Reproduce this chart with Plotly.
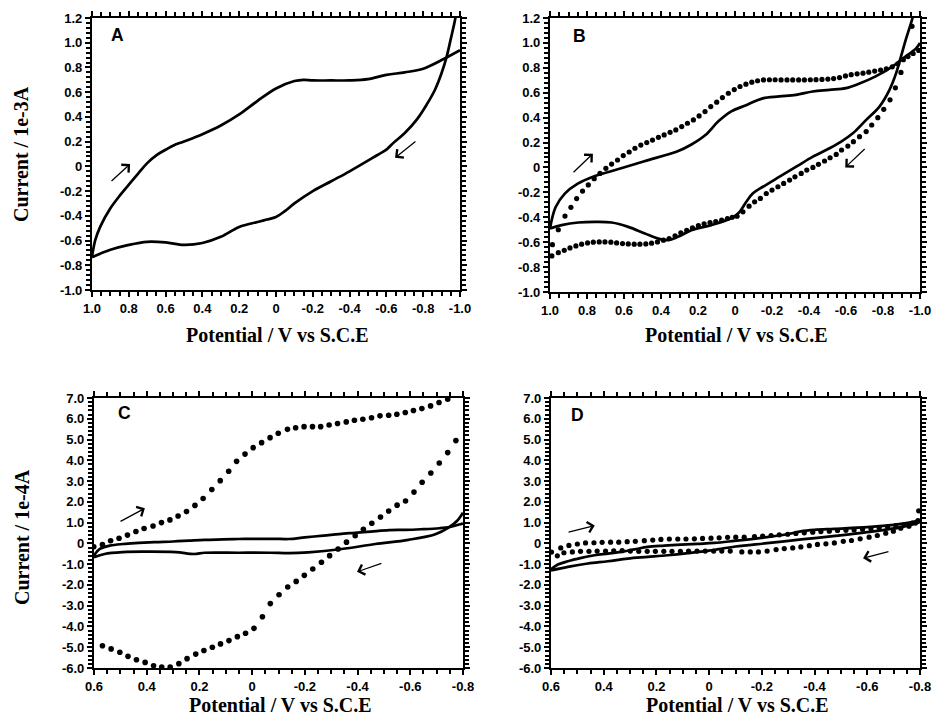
import plotly.graph_objects as go

# ---------------- data (potential V vs S.C.E, current) ----------------
# Panel A (current / 1e-3 A), solid CV
A_fwd_v = [1.0, 0.982, 0.955, 0.9, 0.846, 0.801, 0.747, 0.70, 0.647, 0.6, 0.557, 0.5, 0.4, 0.3, 0.2, 0.1, 0.0, -0.1, -0.15, -0.2, -0.3, -0.4, -0.5, -0.6, -0.7, -0.8, -0.9, -1.0]
A_fwd_i = [-0.73, -0.595, -0.487, -0.339, -0.231, -0.15, -0.055, 0.026, 0.093, 0.134, 0.169, 0.201, 0.26, 0.33, 0.42, 0.53, 0.63, 0.69, 0.70, 0.695, 0.695, 0.695, 0.705, 0.74, 0.76, 0.79, 0.86, 0.94]
A_rev_v = [-0.99, -0.975, -0.949, -0.928, -0.9, -0.864, -0.819, -0.765, -0.7, -0.638, -0.6, -0.549, -0.4, -0.3, -0.2, -0.1, -0.05, 0.0, 0.05, 0.1, 0.2, 0.3, 0.4, 0.5, 0.6, 0.7, 0.8, 0.9, 1.0]
A_rev_i = [1.35, 1.2, 1.025, 0.89, 0.755, 0.62, 0.50, 0.378, 0.27, 0.19, 0.135, 0.09, -0.04, -0.12, -0.20, -0.30, -0.36, -0.41, -0.43, -0.45, -0.49, -0.57, -0.62, -0.635, -0.615, -0.61, -0.635, -0.675, -0.735]

# Panel B (current / 1e-3 A), solid CV
B_fwd_v = [1.0, 0.97, 0.92, 0.85, 0.76, 0.67, 0.49, 0.31, 0.24, 0.16, 0.09, 0.02, -0.06, -0.15, -0.24, -0.33, -0.42, -0.51, -0.60, -0.67, -0.76, -0.85, -0.91, -0.98, -1.0]
B_fwd_i = [-0.49, -0.32, -0.21, -0.13, -0.07, -0.03, 0.05, 0.13, 0.18, 0.26, 0.37, 0.45, 0.50, 0.555, 0.57, 0.583, 0.61, 0.623, 0.637, 0.672, 0.731, 0.81, 0.878, 0.958, 1.0]
B_rev_v = [-0.975, -0.957, -0.924, -0.897, -0.871, -0.835, -0.781, -0.709, -0.637, -0.574, -0.511, -0.421, -0.331, -0.241, -0.151, -0.097, -0.061, -0.025, 0.011, 0.128, 0.236, 0.308, 0.362, 0.415, 0.487, 0.577, 0.667, 0.757, 0.847, 0.937, 1.0]
B_rev_i = [1.30, 1.187, 1.03, 0.89, 0.757, 0.623, 0.489, 0.382, 0.274, 0.207, 0.154, 0.087, 0.006, -0.074, -0.155, -0.208, -0.276, -0.356, -0.40, -0.463, -0.504, -0.557, -0.584, -0.571, -0.531, -0.477, -0.442, -0.437, -0.442, -0.463, -0.49]
# Panel B, dotted CV
B_dot_fwd_v = [0.987, 0.955, 0.919, 0.887, 0.856, 0.824, 0.793, 0.761, 0.730, 0.698, 0.667, 0.635, 0.604, 0.572, 0.541, 0.509, 0.477, 0.446, 0.414, 0.383, 0.351, 0.320, 0.288, 0.257, 0.225, 0.194, 0.162, 0.131, 0.099, 0.068, 0.036, 0.004, -0.027, -0.059, -0.091, -0.122, -0.154, -0.186, -0.217, -0.249, -0.281, -0.312, -0.344, -0.375, -0.407, -0.438, -0.470, -0.502, -0.533, -0.565, -0.597, -0.628, -0.660, -0.692, -0.723, -0.755, -0.787, -0.818, -0.850, -0.880, -0.910, -0.935, -0.963, -0.993]
B_dot_fwd_i = [-0.62, -0.50, -0.39, -0.32, -0.25, -0.19, -0.14, -0.09, -0.048, -0.007, 0.027, 0.06, 0.095, 0.124, 0.154, 0.18, 0.20, 0.22, 0.242, 0.261, 0.282, 0.301, 0.328, 0.355, 0.382, 0.414, 0.449, 0.489, 0.524, 0.561, 0.596, 0.625, 0.65, 0.669, 0.685, 0.696, 0.703, 0.704, 0.704, 0.703, 0.703, 0.703, 0.703, 0.703, 0.704, 0.705, 0.707, 0.71, 0.714, 0.722, 0.735, 0.745, 0.752, 0.757, 0.765, 0.774, 0.782, 0.792, 0.808, 0.832, 0.865, 0.89, 0.915, 0.94]
B_dot_rev_v = [-0.957, -0.897, -0.867, -0.838, -0.804, -0.772, -0.739, -0.709, -0.673, -0.640, -0.610, -0.576, -0.547, -0.514, -0.484, -0.451, -0.421, -0.388, -0.358, -0.324, -0.295, -0.263, -0.232, -0.200, -0.169, -0.137, -0.106, -0.076, -0.043, -0.011, 0.015, 0.041, 0.072, 0.104, 0.135, 0.167, 0.198, 0.230, 0.261, 0.293, 0.324, 0.356, 0.387, 0.419, 0.451, 0.482, 0.514, 0.545, 0.577, 0.608, 0.640, 0.671, 0.703, 0.734, 0.766, 0.797, 0.829, 0.860, 0.892, 0.923, 0.955, 0.990]
B_dot_rev_i = [1.133, 0.763, 0.639, 0.543, 0.467, 0.40, 0.341, 0.288, 0.247, 0.207, 0.172, 0.14, 0.105, 0.078, 0.052, 0.025, 0.0, -0.021, -0.048, -0.075, -0.101, -0.128, -0.155, -0.182, -0.209, -0.249, -0.276, -0.311, -0.356, -0.391, -0.40, -0.41, -0.423, -0.434, -0.442, -0.453, -0.466, -0.485, -0.504, -0.525, -0.549, -0.571, -0.584, -0.598, -0.608, -0.614, -0.616, -0.616, -0.614, -0.611, -0.606, -0.60, -0.598, -0.598, -0.60, -0.606, -0.616, -0.63, -0.646, -0.665, -0.684, -0.71]

# Panel C (current / 1e-4 A)
C_fwd_v = [0.6, 0.578, 0.54, 0.49, 0.43, 0.37, 0.30, 0.24, 0.18, 0.11, 0.05, -0.01, -0.08, -0.14, -0.20, -0.27, -0.33, -0.39, -0.45, -0.52, -0.58, -0.64, -0.71, -0.75, -0.79, -0.8]
C_fwd_i = [-0.59, -0.27, -0.11, -0.03, 0.02, 0.06, 0.09, 0.13, 0.17, 0.19, 0.21, 0.22, 0.22, 0.21, 0.29, 0.37, 0.45, 0.51, 0.57, 0.64, 0.65, 0.68, 0.73, 0.79, 0.92, 0.95]
C_rev_v = [-0.8, -0.777, -0.745, -0.695, -0.593, -0.467, -0.34, -0.213, -0.14, -0.07, 0.05, 0.18, 0.22, 0.29, 0.41, 0.49, 0.56, 0.6]
C_rev_i = [1.48, 1.08, 0.76, 0.44, 0.17, -0.03, -0.27, -0.43, -0.47, -0.45, -0.45, -0.45, -0.51, -0.42, -0.40, -0.42, -0.51, -0.67]
C_dot_fwd_v = [0.601, 0.568, 0.537, 0.505, 0.473, 0.441, 0.410, 0.376, 0.344, 0.312, 0.281, 0.249, 0.217, 0.186, 0.153, 0.121, 0.089, 0.059, 0.027, -0.004, -0.036, -0.068, -0.099, -0.134, -0.165, -0.197, -0.229, -0.260, -0.292, -0.324, -0.357, -0.388, -0.420, -0.453, -0.485, -0.518, -0.549, -0.581, -0.612, -0.644, -0.677, -0.709, -0.742]
C_dot_fwd_i = [-0.16, -0.06, 0.13, 0.25, 0.40, 0.57, 0.72, 0.84, 1.00, 1.13, 1.32, 1.53, 1.83, 2.16, 2.59, 3.02, 3.47, 3.95, 4.30, 4.61, 4.85, 5.09, 5.30, 5.49, 5.57, 5.62, 5.62, 5.62, 5.70, 5.77, 5.85, 5.93, 5.98, 6.05, 6.14, 6.17, 6.22, 6.30, 6.40, 6.49, 6.62, 6.78, 6.94]
C_dot_rev_v = [-0.773, -0.742, -0.710, -0.678, -0.645, -0.614, -0.582, -0.550, -0.518, -0.487, -0.454, -0.422, -0.391, -0.358, -0.326, -0.294, -0.263, -0.230, -0.198, -0.167, -0.135, -0.102, -0.069, -0.039, -0.007, 0.025, 0.056, 0.088, 0.120, 0.151, 0.183, 0.214, 0.247, 0.278, 0.311, 0.343, 0.374, 0.406, 0.439, 0.471, 0.502, 0.535, 0.568]
C_dot_rev_i = [4.95, 4.37, 3.87, 3.39, 2.94, 2.47, 2.04, 1.84, 1.56, 1.27, 0.97, 0.68, 0.37, 0.06, -0.27, -0.59, -0.91, -1.23, -1.54, -1.83, -2.10, -2.47, -2.90, -3.53, -4.09, -4.33, -4.49, -4.68, -4.84, -5.00, -5.16, -5.33, -5.55, -5.79, -5.95, -5.95, -5.89, -5.73, -5.60, -5.44, -5.24, -5.08, -4.93]

# Panel D (current / 1e-4 A)
D_fwd_v = [0.6, 0.574, 0.536, 0.485, 0.435, 0.384, 0.334, 0.283, 0.233, 0.170, 0.107, 0.044, -0.019, -0.095, -0.22, -0.30, -0.348, -0.40, -0.474, -0.60, -0.727, -0.8]
D_fwd_i = [-1.25, -1.02, -0.86, -0.70, -0.57, -0.49, -0.41, -0.29, -0.17, -0.11, -0.06, -0.02, 0.02, 0.12, 0.30, 0.45, 0.58, 0.65, 0.70, 0.78, 0.94, 1.10]
D_rev_v = [-0.8, -0.73, -0.6, -0.47, -0.35, -0.22, -0.1, 0.0, 0.08, 0.157, 0.233, 0.309, 0.384, 0.46, 0.536, 0.6]
D_rev_i = [1.02, 0.78, 0.54, 0.35, 0.19, 0.01, -0.15, -0.35, -0.47, -0.57, -0.65, -0.73, -0.86, -0.97, -1.13, -1.30]
D_dot_fwd_v = [0.598, 0.563, 0.532, 0.500, 0.469, 0.437, 0.406, 0.374, 0.343, 0.311, 0.280, 0.246, 0.214, 0.183, 0.151, 0.119, 0.088, 0.056, 0.025, -0.007, -0.038, -0.070, -0.101, -0.133, -0.172, -0.203, -0.235, -0.266, -0.298, -0.329, -0.361, -0.393, -0.424, -0.456, -0.487, -0.519, -0.550, -0.582, -0.614, -0.645, -0.677, -0.708, -0.740, -0.771, -0.792]
D_dot_fwd_i = [-0.42, -0.22, -0.10, -0.03, 0.02, 0.03, 0.05, 0.06, 0.06, 0.08, 0.10, 0.13, 0.16, 0.19, 0.21, 0.21, 0.21, 0.22, 0.24, 0.25, 0.27, 0.29, 0.30, 0.30, 0.33, 0.35, 0.38, 0.41, 0.44, 0.48, 0.51, 0.54, 0.57, 0.59, 0.62, 0.63, 0.65, 0.68, 0.71, 0.75, 0.79, 0.86, 0.90, 0.98, 1.10]
D_dot_rev_v = [-0.795, -0.783, -0.758, -0.727, -0.699, -0.670, -0.638, -0.607, -0.573, -0.540, -0.509, -0.475, -0.443, -0.411, -0.380, -0.348, -0.317, -0.285, -0.254, -0.220, -0.187, -0.156, -0.124, -0.080, -0.048, -0.017, 0.015, 0.046, 0.078, 0.109, 0.141, 0.172, 0.204, 0.235, 0.267, 0.299, 0.330, 0.362, 0.393, 0.425, 0.456, 0.488, 0.519, 0.551, 0.576]
D_dot_rev_i = [1.57, 0.98, 0.83, 0.73, 0.59, 0.49, 0.38, 0.30, 0.22, 0.14, 0.10, 0.02, -0.02, -0.05, -0.11, -0.17, -0.22, -0.25, -0.30, -0.37, -0.41, -0.41, -0.41, -0.37, -0.37, -0.37, -0.37, -0.37, -0.37, -0.38, -0.38, -0.38, -0.38, -0.38, -0.38, -0.37, -0.35, -0.36, -0.37, -0.37, -0.38, -0.38, -0.41, -0.45, -0.60]

# ticks
top_x_vals = [1.0, 0.8, 0.6, 0.4, 0.2, 0.0, -0.2, -0.4, -0.6, -0.8, -1.0]
top_x_text = ["1.0", "0.8", "0.6", "0.4", "0.2", "0", "-0.2", "-0.4", "-0.6", "-0.8", "-1.0"]
top_y_vals = [1.2, 1.0, 0.8, 0.6, 0.4, 0.2, 0.0, -0.2, -0.4, -0.6, -0.8, -1.0]
top_y_text = ["1.2", "1.0", "0.8", "0.6", "0.4", "0.2", "0", "-0.2", "-0.4", "-0.6", "-0.8", "-1.0"]
bot_x_vals = [0.6, 0.4, 0.2, 0.0, -0.2, -0.4, -0.6, -0.8]
bot_x_text = ["0.6", "0.4", "0.2", "0", "-0.2", "-0.4", "-0.6", "-0.8"]
bot_y_vals = [7, 6, 5, 4, 3, 2, 1, 0, -1, -2, -3, -4, -5, -6]
bot_y_text = ["7.0", "6.0", "5.0", "4.0", "3.0", "2.0", "1.0", "0", "-1.0", "-2.0", "-3.0", "-4.0", "-5.0", "-6.0"]

panel_labels = ["A", "B", "C", "D"]
y_title_top = "Current / 1e-3A"
y_title_bot = "Current / 1e-4A"
x_title = "Potential / V vs S.C.E"

# ---------------- figure ----------------
# page body keeps the browser's default 8 px margin; figure is sized to fill the 942x725 window exactly
OFF = 8
W, H = 926, 709
fig = go.Figure()

def fx(px):
    return (px - OFF) / W

def fy(py):
    return 1 - (py - OFF) / H

def solid(v, i, xa, ya):
    fig.add_trace(go.Scatter(x=v, y=i, mode="lines", xaxis=xa, yaxis=ya,
                             line=dict(color="black", width=2.7, shape="spline", smoothing=1.0),
                             showlegend=False, hoverinfo="skip"))

def dots(v, i, xa, ya, size=5.2):
    fig.add_trace(go.Scatter(x=v, y=i, mode="markers", xaxis=xa, yaxis=ya,
                             marker=dict(color="black", size=size, line=dict(width=0)),
                             showlegend=False, hoverinfo="skip"))

solid(A_fwd_v, A_fwd_i, "x", "y")
solid(A_rev_v, A_rev_i, "x", "y")
solid(B_fwd_v, B_fwd_i, "x2", "y2")
solid(B_rev_v, B_rev_i, "x2", "y2")
dots(B_dot_fwd_v, B_dot_fwd_i, "x2", "y2")
dots(B_dot_rev_v, B_dot_rev_i, "x2", "y2")
solid(C_fwd_v, C_fwd_i, "x3", "y3")
solid(C_rev_v, C_rev_i, "x3", "y3")
dots(C_dot_fwd_v, C_dot_fwd_i, "x3", "y3", 5.6)
dots(C_dot_rev_v, C_dot_rev_i, "x3", "y3", 5.6)
solid(D_fwd_v, D_fwd_i, "x4", "y4")
solid(D_rev_v, D_rev_i, "x4", "y4")
dots(D_dot_fwd_v, D_dot_fwd_i, "x4", "y4")
dots(D_dot_rev_v, D_dot_rev_i, "x4", "y4")

tickfont = dict(family="Liberation Sans, Arial, sans-serif", size=13, color="black", weight="bold")

def xaxis(left, right, rng, vals, text):
    return dict(domain=[fx(left), fx(right)], range=rng, tickmode="array", tickvals=vals, ticktext=text,
                showline=True, linecolor="black", linewidth=2.2, mirror="allticks",
                ticks="outside", ticklen=5, tickwidth=2, tickcolor="black",
                minor=dict(tickmode="linear", tick0=0, dtick=0.05, ticks="outside", ticklen=4,
                           tickwidth=1.6, tickcolor="black", showgrid=False),
                showgrid=False, zeroline=False, tickfont=tickfont, fixedrange=True, automargin=False)

def yaxis(top, bottom, rng, vals, text, mdt):
    return dict(domain=[fy(bottom), fy(top)], range=rng, tickmode="array", tickvals=vals, ticktext=text,
                showline=True, linecolor="black", linewidth=2.2, mirror="allticks",
                ticks="outside", ticklen=5, tickwidth=2, tickcolor="black",
                minor=dict(tickmode="linear", tick0=0, dtick=mdt, ticks="outside", ticklen=4,
                           tickwidth=1.6, tickcolor="black", showgrid=False),
                showgrid=False, zeroline=False, tickfont=tickfont, fixedrange=True, automargin=False)

fig.update_layout(
    width=W, height=H, margin=dict(l=0, r=0, t=0, b=0, pad=0),
    paper_bgcolor="white", plot_bgcolor="white",
    xaxis=xaxis(92, 460, [1.0, -1.0], top_x_vals, top_x_text),
    yaxis=yaxis(18, 290, [-1.0, 1.2], top_y_vals, top_y_text, 0.04),
    xaxis2=xaxis(550, 920, [1.0, -1.0], top_x_vals, top_x_text),
    yaxis2=yaxis(18, 292, [-1.0, 1.2], top_y_vals, top_y_text, 0.04),
    xaxis3=xaxis(94, 463, [0.6, -0.8], bot_x_vals, bot_x_text),
    yaxis3=yaxis(398, 668, [-6.0, 7.0], bot_y_vals, bot_y_text, 0.2),
    xaxis4=xaxis(551, 920, [0.6, -0.8], bot_x_vals, bot_x_text),
    yaxis4=yaxis(398, 668, [-6.0, 7.0], bot_y_vals, bot_y_text, 0.2),
)
fig.update_layout(xaxis2_anchor="y2", yaxis2_anchor="x2", xaxis3_anchor="y3", yaxis3_anchor="x3",
                  xaxis4_anchor="y4", yaxis4_anchor="x4", xaxis_anchor="y", yaxis_anchor="x")

title_font = dict(family="Liberation Serif, Times New Roman, serif", size=20, color="black", weight="bold")
label_font = dict(family="Liberation Sans, Arial, sans-serif", size=17.5, color="black", weight="bold")

ann = []
# panel letters
for lab, xd, yd, (xr, yr) in zip(panel_labels, [0.07, 0.081, 0.084, 0.073], [0.9375, 0.934, 0.945, 0.938],
                                 [("x", "y"), ("x2", "y2"), ("x3", "y3"), ("x4", "y4")]):
    ann.append(dict(text=lab, xref=xr + " domain", yref=yr + " domain", x=xd, y=yd,
                    showarrow=False, font=label_font, xanchor="center", yanchor="middle"))
# axis titles
for cx in (277, 736):
    ann.append(dict(text=x_title, xref="paper", yref="paper", x=fx(cx), y=fy(335),
                    showarrow=False, font=title_font, xanchor="center", yanchor="middle"))
for cx in (280, 737):
    ann.append(dict(text=x_title, xref="paper", yref="paper", x=fx(cx), y=0,
                    showarrow=False, font=title_font, xanchor="center", yanchor="bottom", borderpad=0))
ann.append(dict(text=y_title_top, xref="paper", yref="paper", x=fx(21), y=fy(154), textangle=-90,
                showarrow=False, font=title_font, xanchor="center", yanchor="middle"))
ann.append(dict(text=y_title_bot, xref="paper", yref="paper", x=fx(22), y=fy(537), textangle=-90,
                showarrow=False, font=title_font, xanchor="center", yanchor="middle"))
# sweep direction arrows (head, tail in data units)
arrows = [("x", "y", 0.793, 0.02, 0.902, -0.13), ("x", "y", -0.647, 0.07, -0.766, 0.21),
          ("x2", "y2", 0.768, 0.11, 0.881, -0.05), ("x2", "y2", -0.596, 0.0, -0.709, 0.16),
          ("x3", "y3", 0.407, 1.69, 0.505, 1.02), ("x3", "y3", -0.398, -1.37, -0.496, -0.94),
          ("x4", "y4", 0.434, 0.86, 0.539, 0.52), ("x4", "y4", -0.584, -0.71, -0.686, -0.38)]
for xr, yr, hx, hy, tx, ty in arrows:
    ann.append(dict(text="", xref=xr, yref=yr, axref=xr, ayref=yr, x=hx, y=hy, ax=tx, ay=ty,
                    showarrow=True, arrowhead=4, arrowsize=1.6, arrowwidth=1.3, arrowcolor="black"))
fig.update_layout(annotations=ann)

fig.write_html("out.html", config={"displayModeBar": False})
